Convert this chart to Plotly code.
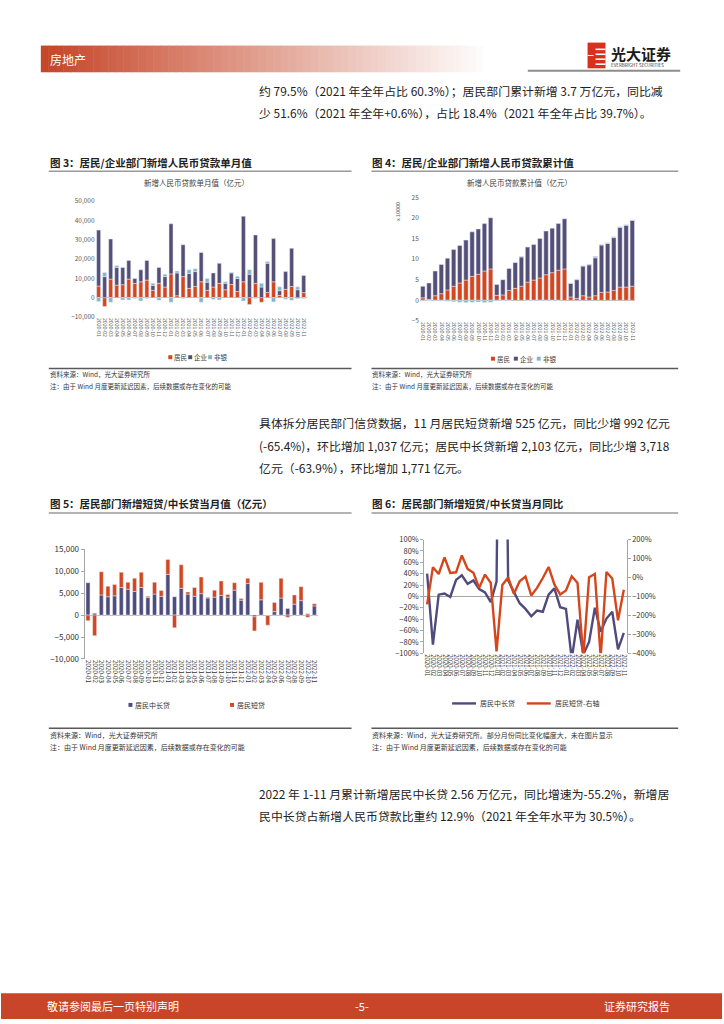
import plotly.graph_objects as go

W, H = 724, 1024
def px(x): return x / W
def py(y): return 1 - y / H

FONT = "Noto Sans CJK SC"

# ---------------- data ----------------
months = ["2020-01", "2020-02", "2020-03", "2020-04", "2020-05", "2020-06",
          "2020-07", "2020-08", "2020-09", "2020-10", "2020-11", "2020-12",
          "2021-01", "2021-02", "2021-03", "2021-04", "2021-05", "2021-06",
          "2021-07", "2021-08", "2021-09", "2021-10", "2021-11", "2021-12",
          "2022-01", "2022-02", "2022-03", "2022-04", "2022-05", "2022-06",
          "2022-07", "2022-08", "2022-09", "2022-10", "2022-11"]

# Fig 3: monthly new RMB loans (亿元)
household_m = [6000, -4600, 9600, 6500, 6700, 9600, 7400, 8200, 9100, 3800, 7400, 5500,
               12300, 1000, 10900, 4800, 5800, 8200, 3800, 5500, 7400, 4100, 6800, 3200,
               8200, -3600, 7400, -2400, 2700, 8200, 1200, 4300, 5800, -400, 2600]
corporate_m = [29000, 10900, 20800, 9200, 8900, 9700, 2500, 6200, 10200, 2500, 8200, 5400,
               26000, 11800, 16500, 7700, 7700, 15200, 4200, 7300, 10400, 3300, 6000, 6700,
               34000, 12100, 25100, 5500, 15100, 22400, 2400, 9200, 19800, 4100, 8900]
nonbank_m = [-2000, 2100, -2400, 1000, -1200, -1200, -500, -1700, -500, 1100, -1400, 1200,
             -2400, 1000, -500, 1900, 1500, -2400, 1900, -1000, -1200, 800, 300, 1200,
             -1700, 2400, -500, 1900, 900, -2200, 2000, -800, -1400, 1500, -500]

# Fig 4: cumulative new RMB loans (x 10000 亿元)
household_c = [0.6, 0.2, 1.1, 1.6, 2.5, 3.4, 4.2, 4.9, 5.8, 6.3, 7.1, 7.6,
               1.2, 1.3, 2.4, 2.9, 3.4, 4.4, 4.9, 5.4, 6.2, 6.7, 7.3, 7.6,
               0.8, 0.45, 1.1, 0.8, 1.1, 1.9, 2.0, 2.4, 3.2, 3.2, 3.4]
corporate_c = [2.8, 4.0, 6.0, 7.1, 7.7, 8.9, 9.1, 9.7, 10.8, 11.0, 11.5, 12.4,
               2.6, 3.7, 5.3, 6.3, 7.1, 8.5, 8.6, 9.6, 10.6, 10.8, 11.3, 12.2,
               3.3, 4.55, 7.2, 7.8, 9.2, 11.5, 11.8, 12.8, 14.5, 15.0, 16.0]
nonbank_c = [-0.15, -0.05, -0.2, -0.15, -0.25, -0.35, -0.5, -0.55, -0.5, -0.45, -0.55, -0.5,
             -0.2, -0.05, -0.05, 0.05, 0.15, -0.1, -0.1, -0.1, -0.1, -0.05, -0.1, 0.05,
             0.1, 0.15, 0.05, 0.2, 0.35, 0.1, 0.15, 0.2, 0.15, 0.15, 0.1]

# Fig 5: household short / mid-long term loans, monthly (亿元)
mid_long = [7400, 400, 4600, 4200, 4400, 6300, 5900, 5400, 6300, 4000, 4800, 4300,
            9300, 4200, 6100, 4800, 4300, 4900, 3900, 4100, 4500, 4100, 5700, 3400,
            7200, -400, 3500, -100, 800, 3900, 1500, 2500, 3300, 300, 2100]
short_term = [-1300, -4700, 5300, 2400, 2600, 3500, 1600, 3000, 3500, 300, 2700, 1300,
              3400, -2900, 5400, 500, 2000, 3800, 200, 1600, 3300, 600, 1700, 400,
              1200, -3200, 4000, -2200, 2100, 4500, -500, 2100, 3200, -500, 500]

# Fig 6: YoY (%)
mid_long_yoy = [40, -85, 3, 5, -1, 29, 37, 22, 28, 13, 7, -10,
                26, 950, 28, 9, -12, -22, -35, -25, -27, 3, 14, -19,
                -22, -110, -41, -102, -80, -20, -62, -39, -27, -93, -64]
short_yoy = [-142, 54, 18, 106, 24, 27, 116, 45, 24, -55, 15, -29,
             -390, -40, 0, -86, -20, 5, -95, -55, -3, 55, -37, -90,
             -69, 6, -29, -420, 1, 18, -420, 29, -6, -226, -65]

# ---------------- styles ----------------
RED = "#D4461F"
PURPLE = "#554E77"
LBLUE = "#86B4C8"
LINE_P = "#4F4B7D"
LINE_R = "#D6461C"
GREY_T = "#595959"

fig = go.Figure()

# Fig 3
fig.add_trace(go.Bar(x=months, y=household_m, name="居民", marker_color=RED, width=0.66,
                     xaxis="x", yaxis="y"))
fig.add_trace(go.Bar(x=months, y=corporate_m, name="企业", marker_color=PURPLE, width=0.66,
                     xaxis="x", yaxis="y"))
fig.add_trace(go.Bar(x=months, y=nonbank_m, name="非银", marker_color=LBLUE, width=0.66,
                     xaxis="x", yaxis="y"))
# Fig 4
fig.add_trace(go.Bar(x=months, y=household_c, name="居民", marker_color=RED, width=0.72,
                     xaxis="x2", yaxis="y2"))
fig.add_trace(go.Bar(x=months, y=corporate_c, name="企业", marker_color=PURPLE, width=0.72,
                     xaxis="x2", yaxis="y2"))
fig.add_trace(go.Bar(x=months, y=nonbank_c, name="非银", marker_color=LBLUE, width=0.72,
                     xaxis="x2", yaxis="y2"))
# Fig 5
fig.add_trace(go.Bar(x=months, y=mid_long, name="居民中长贷", marker_color=LINE_P, width=0.6,
                     xaxis="x3", yaxis="y3"))
fig.add_trace(go.Bar(x=months, y=short_term, name="居民短贷", marker_color=RED, width=0.6,
                     xaxis="x3", yaxis="y3"))
# Fig 6
fig.add_trace(go.Scatter(x=months, y=mid_long_yoy, name="居民中长贷", mode="lines",
                         line=dict(color=LINE_P, width=2.4), xaxis="x4", yaxis="y4"))
fig.add_trace(go.Scatter(x=months, y=short_yoy, name="居民短贷-右轴", mode="lines",
                         line=dict(color=LINE_R, width=2.4), xaxis="x4", yaxis="y5"))

xcommon = dict(type="category", tickangle=90, showgrid=False, showline=False, ticks="",
               zeroline=False, range=[-0.5, 34.5],
               tickmode="array", tickvals=months, ticktext=months)
ycommon = dict(showgrid=False, zeroline=True, zerolinecolor="#BFBFBF", zerolinewidth=1,
               ticks="")

fig.update_layout(
    width=W, height=H, margin=dict(l=0, r=0, t=0, b=0),
    paper_bgcolor="white", plot_bgcolor="rgba(0,0,0,0)",
    barmode="relative", showlegend=False,
    font=dict(family=FONT, color="#333333"),
    xaxis=dict(xcommon, domain=[px(95), px(307)], anchor="y",
               tickfont=dict(size=5.2, color=GREY_T)),
    yaxis=dict(ycommon, domain=[py(314.3), py(197.3)], anchor="x",
               range=[-10000, 50000], dtick=10000, tickformat=",",
               tickfont=dict(size=6.5, color=GREY_T)),
    xaxis2=dict(xcommon, domain=[px(420.5), px(637)], anchor="y2",
                tickfont=dict(size=5.2, color=GREY_T)),
    yaxis2=dict(ycommon, domain=[py(318.3), py(193.3)], anchor="x2",
                range=[-5, 25], dtick=5,
                tickfont=dict(size=6.5, color=GREY_T)),
    xaxis3=dict(xcommon, domain=[px(84), px(318)], anchor="y3",
                tickfont=dict(size=6.3, color="#333333")),
    yaxis3=dict(ycommon, domain=[py(660), py(549.3)], anchor="x3",
                range=[-10000, 15000], dtick=5000, tickformat=",",
                showline=True, linecolor="#A6A6A6", linewidth=1,
                ticks="outside", ticklen=3, tickcolor="#A6A6A6",
                tickfont=dict(size=8, color="#333333")),
    xaxis4=dict(xcommon, domain=[px(425), px(628.3)], anchor="y4",
                tickfont=dict(size=6, color="#333333")),
    yaxis4=dict(ycommon, domain=[py(654.3), py(539.3)], anchor="x4",
                range=[-100, 100], dtick=20, ticksuffix="%",
                showline=True, linecolor="#A6A6A6", linewidth=1,
                ticks="outside", ticklen=3, tickcolor="#A6A6A6",
                zerolinecolor="#A6A6A6",
                tickfont=dict(size=7.5, color="#333333")),
    yaxis5=dict(showgrid=False, zeroline=False, overlaying="y4", side="right", anchor="x4",
                range=[-400, 200], dtick=100, ticksuffix="%",
                showline=True, linecolor="#A6A6A6", linewidth=1,
                ticks="outside", ticklen=3, tickcolor="#A6A6A6",
                tickfont=dict(size=7.5, color="#333333")),
)

shapes = []
annots = []

def txt(x, y, s, size=12, color="#222222", anchor="left", bold=False, angle=0):
    if bold:
        s = "<b>" + s + "</b>"
    annots.append(dict(x=px(x), y=py(y), xref="paper", yref="paper", text=s,
                       showarrow=False, xanchor=anchor, yanchor="middle", textangle=angle,
                       borderpad=0,
                       font=dict(size=size, color=color, family=FONT)))

def rect(x0, y0, x1, y1, color, layer="below"):
    shapes.append(dict(type="rect", xref="paper", yref="paper", x0=px(x0), x1=px(x1),
                       y0=py(y1), y1=py(y0), fillcolor=color, line=dict(width=0),
                       layer=layer))

def hline(x0, x1, y, color, width):
    shapes.append(dict(type="line", xref="paper", yref="paper", x0=px(x0), x1=px(x1),
                       y0=py(y), y1=py(y), line=dict(color=color, width=width)))

# ---- header band (gradient) ----
n = 60
x_start, x_end = 40, 492
c0 = (198, 70, 40)
for i in range(n):
    t = i / (n - 1)
    r = int(c0[0] + (255 - c0[0]) * t)
    g = int(c0[1] + (255 - c0[1]) * t)
    b = int(c0[2] + (255 - c0[2]) * t)
    xa = x_start + (x_end - x_start) * i / n
    xb = x_start + (x_end - x_start) * (i + 1) / n + 0.5
    rect(xa, 40, xb, 67, f"rgb({r},{g},{b})")
txt(48, 54, "房地产", size=12, color="white")

# ---- logo ----
rect(589, 37, 607, 63, "#D7301F", layer="above")
for yy in (43, 48, 53, 58):
    rect(597, yy, 607, yy + 1.6, "white", layer="above")
rect(589, 49.5, 595, 50.5, "white", layer="above")
txt(612, 48, "光大证券", size=15, color="#1a1a1a", bold=True)
txt(612, 60, "EVERBRIGHT SECURITIES", size=4.5, color="#333333")
hline(529, 682, 65.5, "#8C8C8C", 2)

PS = 11.9
# ---- paragraph 1 ----
txt(258, 85, "约 79.5%（2021 年全年占比 60.3%）；居民部门累计新增 3.7 万亿元，同比减", size=PS)
txt(258, 108, "少 51.6%（2021 年全年+0.6%），占比 18.4%（2021 年全年占比 39.7%）。", size=PS)

# ---- fig 3 / 4 frames ----
txt(48, 158, "图 3：居民/企业部门新增人民币贷款单月值", size=10.5, bold=True)
txt(372, 158, "图 4：居民/企业部门新增人民币贷款累计值", size=10.5, bold=True)
hline(48, 352, 167, "#9A9A9A", 1.5)
hline(372, 680, 167, "#9A9A9A", 1.5)
txt(196, 178, "新增人民币贷款单月值（亿元）", size=7.5, color="#404040", anchor="center")
txt(521, 178, "新增人民币贷款累计值（亿元）", size=7.5, color="#404040", anchor="center")
txt(398, 208, "x 10000", size=5.5, color=GREY_T, anchor="center", angle=-90)

# legends fig3 / fig4
for xx, col, lab in ((168, RED, "居民"), (188, PURPLE, "企业"), (208, LBLUE, "非银")):
    rect(xx, 353, xx + 4, 357, col, layer="above")
    txt(xx + 5, 355.3, lab, size=6.5, color="#404040")
for xx, col, lab in ((492, RED, "居民"), (515, PURPLE, "企业"), (538, LBLUE, "非银")):
    rect(xx, 354.5, xx + 4, 358.5, col, layer="above")
    txt(xx + 5, 356.8, lab, size=6.5, color="#404040")

hline(48, 352, 366.5, "#595959", 1.5)
hline(372, 680, 366.5, "#595959", 1.5)
txt(48, 372, "资料来源：Wind，光大证券研究所", size=6.5, color="#333333")
txt(48, 384, "注：由于 Wind 月度更新延迟因素，后续数据或存在变化的可能", size=6.5, color="#333333")
txt(372, 372, "资料来源：Wind，光大证券研究所", size=6.5, color="#333333")
txt(372, 384, "注：由于 Wind 月度更新延迟因素，后续数据或存在变化的可能", size=6.5, color="#333333")

# ---- paragraph 2 ----
txt(258, 421, "具体拆分居民部门信贷数据，11 月居民短贷新增 525 亿元，同比少增 992 亿元", size=PS)
txt(258, 444, "(-65.4%)，环比增加 1,037 亿元；居民中长贷新增 2,103 亿元，同比少增 3,718", size=PS)
txt(258, 467, "亿元（-63.9%），环比增加 1,771 亿元。", size=PS)

# ---- fig 5 / 6 frames ----
txt(48, 503, "图 5：居民部门新增短贷/中长贷当月值（亿元）", size=10.5, bold=True)
txt(372, 503, "图 6：居民部门新增短贷/中长贷当月同比", size=10.5, bold=True)
hline(48, 352, 512.5, "#9A9A9A", 1.5)
hline(372, 680, 512.5, "#9A9A9A", 1.5)

rect(128, 704.5, 132, 708.5, LINE_P, layer="above")
txt(133.5, 706.6, "居民中长贷", size=7, color="#333333")
rect(230, 704.5, 234, 708.5, RED, layer="above")
txt(235.5, 706.6, "居民短贷", size=7, color="#333333")

hline(453, 477, 705, LINE_P, 2.4)
txt(480, 705, "居民中长贷", size=7, color="#333333")
hline(528, 552, 705, LINE_R, 2.4)
txt(555, 705, "居民短贷-右轴", size=7, color="#333333")

hline(48, 352, 730, "#595959", 1.5)
hline(372, 680, 730, "#595959", 1.5)
txt(48, 737, "资料来源：Wind，光大证券研究所", size=7, color="#333333")
txt(48, 749, "注：由于 Wind 月度更新延迟因素，后续数据或存在变化的可能", size=7, color="#333333")
txt(372, 737, "资料来源：Wind，光大证券研究所。部分月份同比变化幅度大，未在图片显示", size=7, color="#333333")
txt(372, 749, "注：由于 Wind 月度更新延迟因素，后续数据或存在变化的可能", size=7, color="#333333")

# ---- paragraph 3 ----
txt(258, 796, "2022 年 1-11 月累计新增居民中长贷 2.56 万亿元，同比增速为-55.2%，新增居", size=PS)
txt(258, 818, "民中长贷占新增人民币贷款比重约 12.9%（2021 年全年水平为 30.5%）。", size=PS)

# ---- footer ----
rect(0, 998, 724, 1024, "#C8452A")
txt(45, 1011, "敬请参阅最后一页特别声明", size=11, color="white")
txt(362, 1011, "-5-", size=11, color="white", anchor="center")
txt(673, 1011, "证券研究报告", size=11, color="white", anchor="right")

fig.update_layout(shapes=shapes, annotations=annots)
fig.write_html("out.html", config={"displayModeBar": False},
               post_script="document.body.style.margin='0';document.body.style.overflow='hidden';")
